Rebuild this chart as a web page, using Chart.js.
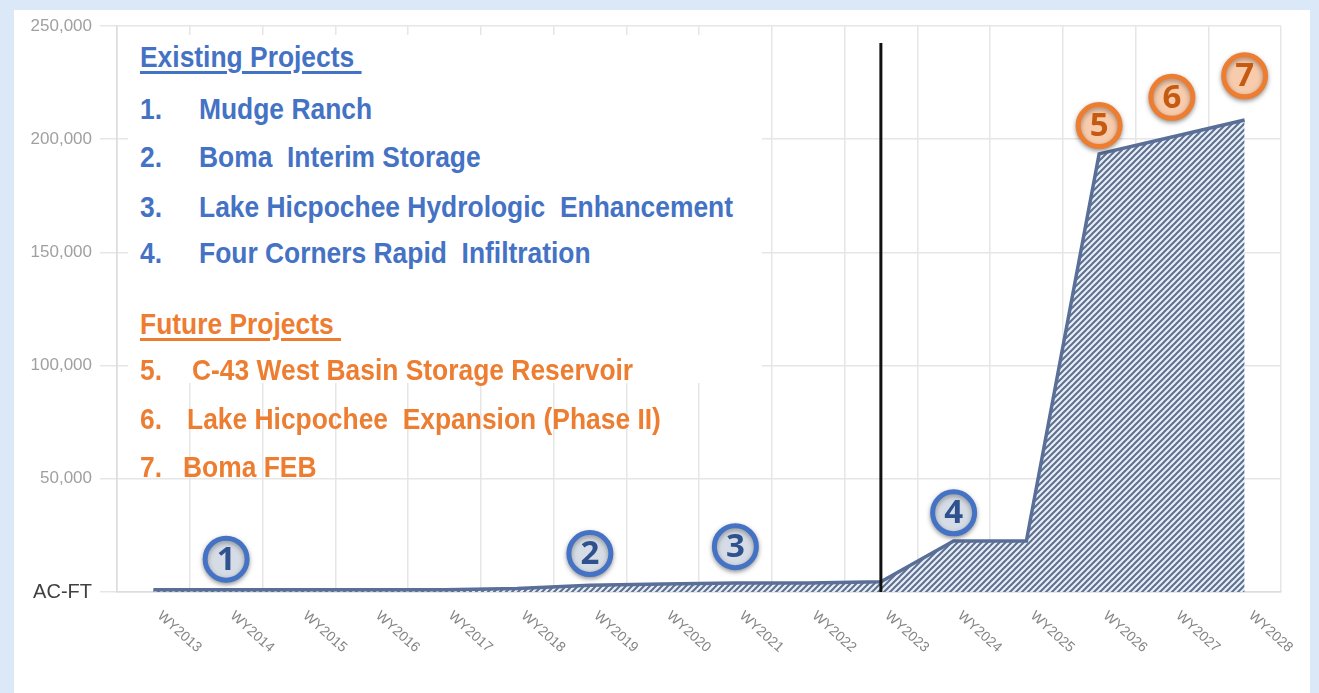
<!DOCTYPE html>
<html lang="en">
<head>
<meta charset="UTF-8">
<title>Storage Capacity by Water Year</title>
<script src="https://cdn.jsdelivr.net/npm/chart.js"></script>
<style>
    html, body { margin: 0; padding: 0; }
    body {
        width: 1319px; height: 693px;
        background: #dbe8f7;
        position: relative; overflow: hidden;
        font-family: "Liberation Sans", Arial, sans-serif;
    }
    #panel { position: absolute; left: 14px; top: 10px; width: 1296px; height: 683px; background: #fff; }
    #chartCanvas { position: absolute; left: 0; top: 0; }
    #box { position: absolute; left: 128px; top: 35px; width: 634px; height: 348px; background: #fff; }
    .lg {
        position: absolute;
        font-weight: bold; font-size: 30px; line-height: 30px;
        white-space: pre;
        transform: scaleX(0.88); transform-origin: 0 0;
    }
    .blue { color: #4472c4; }
    .orange { color: #ed7d31; }
    .head { text-decoration: underline; text-decoration-thickness: 2.5px; text-underline-offset: 4px; }
</style>
</head>
<body>
    <div id="panel"></div>
    <canvas id="chartCanvas" width="1319" height="693"></canvas>
    <div id="box"></div>

    <div class="lg blue head" style="left:140px; top:42px;">Existing Projects </div>
    <div class="lg blue" style="left:140px; top:94px;">1.</div>
    <div class="lg blue" style="left:199px; top:94px;">Mudge Ranch</div>
    <div class="lg blue" style="left:140px; top:142px;">2.</div>
    <div class="lg blue" style="left:199px; top:142px;">Boma  Interim Storage</div>
    <div class="lg blue" style="left:140px; top:192px;">3.</div>
    <div class="lg blue" style="left:199px; top:192px;">Lake Hicpochee Hydrologic  Enhancement</div>
    <div class="lg blue" style="left:140px; top:238px;">4.</div>
    <div class="lg blue" style="left:199px; top:238px;">Four Corners Rapid  Infiltration</div>

    <div class="lg orange head" style="left:140px; top:309px;">Future Projects </div>
    <div class="lg orange" style="left:140px; top:355px;">5.</div>
    <div class="lg orange" style="left:192px; top:355px;">C-43 West Basin Storage Reservoir</div>
    <div class="lg orange" style="left:140px; top:404px;">6.</div>
    <div class="lg orange" style="left:187px; top:404px;">Lake Hicpochee  Expansion (Phase II)</div>
    <div class="lg orange" style="left:140px; top:452px;">7.</div>
    <div class="lg orange" style="left:183px; top:452px;">Boma FEB</div>

<script>
    // water years on the x axis
    var years = ['WY2013', 'WY2014', 'WY2015', 'WY2016', 'WY2017', 'WY2018', 'WY2019', 'WY2020',
                 'WY2021', 'WY2022', 'WY2023', 'WY2024', 'WY2025', 'WY2026', 'WY2027', 'WY2028'];
    // cumulative storage, acre-feet
    var storage = [1000, 1000, 1000, 1000, 1000, 1500, 3000, 3500,
                   4000, 4000, 4500, 22500, 22500, 193500, 201000, 208500];

    // numbered project callouts
    var markerLabels = ['1', '2', '3', '4', '5', '6', '7'];
    var markerYears = ['WY2014', 'WY2019', 'WY2021', 'WY2024', 'WY2026', 'WY2027', 'WY2028'];
    var markerValues = [14500, 17000, 20000, 35000, 206000, 218500, 228000];
    var markerKind = ['existing', 'existing', 'existing', 'existing', 'future', 'future', 'future'];

    var yTicks = [0, 50000, 100000, 150000, 200000, 250000];
    var dividerYear = 'WY2023';

    var ringColor = { existing: '#4472c4', future: '#ed7d31' };
    var fillColor = { existing: '#d6dce5', future: '#f8cbad' };
    var numColor = { existing: '#2f528f', future: '#c55a11' };

    var canvas = document.getElementById('chartCanvas');
    var ctx = canvas.getContext('2d');

    function makeHatch() {
        var c = document.createElement('canvas');
        c.width = 6; c.height = 6;
        var g = c.getContext('2d');
        g.fillStyle = '#e6eff9';
        g.fillRect(0, 0, 6, 6);
        g.strokeStyle = '#5f6f8c';
        g.lineWidth = 2;
        g.beginPath();
        g.moveTo(0, 6); g.lineTo(6, 0);
        g.moveTo(-3, 3); g.lineTo(3, -3);
        g.moveTo(3, 9); g.lineTo(9, 3);
        g.stroke();
        return ctx.createPattern(c, 'repeat');
    }

    var markerData = markerYears.map(function (yr, i) {
        return { x: yr, y: markerValues[i] };
    });

    var markerShadow = {
        id: 'markerShadow',
        beforeDatasetDraw: function (chart, args) {
            if (args.index !== 0) return;
            chart.ctx.save();
            chart.ctx.shadowColor = 'rgba(0,0,0,0.35)';
            chart.ctx.shadowBlur = 5;
            chart.ctx.shadowOffsetY = 2;
        },
        afterDatasetDraw: function (chart, args) {
            if (args.index !== 0) return;
            chart.ctx.restore();
        }
    };

    var overlays = {
        id: 'overlays',
        afterDatasetsDraw: function (chart) {
            var c = chart.ctx, x = chart.scales.x, area = chart.chartArea;

            // divider between existing and future
            var dx = x.getPixelForValue(years.indexOf(dividerYear));
            c.save();
            c.strokeStyle = '#111';
            c.lineWidth = 3;
            c.beginPath();
            c.moveTo(dx, 43);
            c.lineTo(dx, area.bottom);
            c.stroke();
            c.restore();

            // numbers inside the callout circles
            var meta = chart.getDatasetMeta(0);
            c.save();
            c.font = 'bold 33px "Open Sans", "Noto Sans", sans-serif';
            c.textAlign = 'center';
            c.textBaseline = 'middle';
            meta.data.forEach(function (pt, i) {
                c.fillStyle = numColor[markerKind[i]];
                c.fillText(markerLabels[i], pt.x, pt.y + 1);
            });
            c.restore();
        },
        afterDraw: function (chart) {
            var c = chart.ctx, x = chart.scales.x, area = chart.chartArea;
            c.save();
            c.font = '14px "Liberation Sans", Arial, sans-serif';
            c.fillStyle = '#858585';
            c.textAlign = 'left';
            c.textBaseline = 'middle';
            years.forEach(function (yr, i) {
                var px = x.getPixelForValue(i);
                c.save();
                c.translate(px + 6, area.bottom + 22);
                c.rotate(42 * Math.PI / 180);
                c.fillText(yr, 0, 0);
                c.restore();
            });
            c.restore();
        }
    };

    var myChart = new Chart(ctx, {
        type: 'line',
        data: {
            labels: years,
            datasets: [{
                data: markerData,
                showLine: false,
                order: 0,
                pointRadius: 21,
                pointBorderWidth: 5,
                pointBackgroundColor: markerKind.map(function (k) { return fillColor[k]; }),
                pointBorderColor: markerKind.map(function (k) { return ringColor[k]; })
            }, {
                data: storage,
                order: 1,
                fill: 'origin',
                backgroundColor: makeHatch(),
                borderColor: '#5a6f97',
                borderWidth: 3.5,
                pointRadius: 0,
                tension: 0
            }]
        },
        options: {
            responsive: false,
            animation: false,
            layout: { padding: { left: 0, right: 38, top: 25, bottom: 0 } },
            plugins: { legend: { display: false }, tooltip: { enabled: false } },
            scales: {
                x: {
                    offset: true,
                    grid: { offset: true, color: '#e6e6e6', lineWidth: 1.5, drawTicks: false },
                    border: { color: '#dcdcdc', width: 1.5 },
                    ticks: { display: false },
                    afterFit: function (scale) { scale.height = 101; }
                },
                y: {
                    min: 0,
                    max: 250000,
                    afterBuildTicks: function (scale) {
                        scale.ticks = yTicks.map(function (v) { return { value: v }; });
                    },
                    grid: { color: '#e6e6e6', lineWidth: 1.5, tickLength: 17 },
                    border: { color: '#dcdcdc', width: 1.5 },
                    ticks: {
                        padding: 8,
                        color: function (c) { return c.tick && c.tick.value === 0 ? '#404040' : '#a0a0a0'; },
                        font: function (c) {
                            return c.tick && c.tick.value === 0
                                ? { size: 20, family: '"Liberation Sans", Arial, sans-serif' }
                                : { size: 17, family: '"Liberation Sans", Arial, sans-serif' };
                        },
                        callback: function (v) { return v === 0 ? 'AC-FT' : v.toLocaleString('en-US'); }
                    },
                    afterFit: function (scale) { scale.width = 117; }
                }
            }
        },
        plugins: [markerShadow, overlays]
    });
</script>
</body>
</html>
